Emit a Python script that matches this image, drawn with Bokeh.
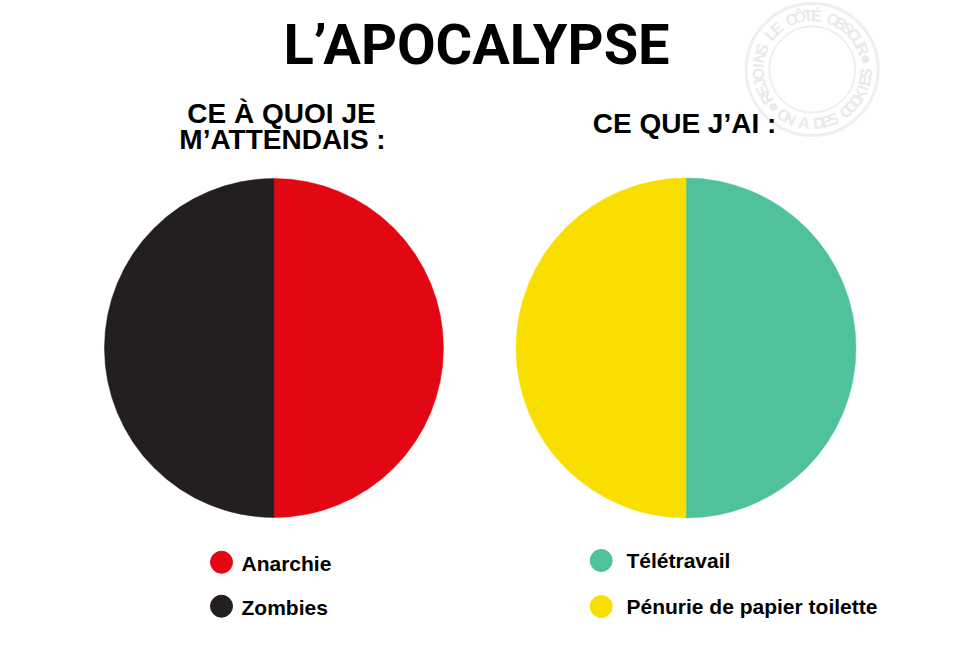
from math import pi, radians
import numpy as np
from bokeh.plotting import figure
from bokeh.models import Range1d, ColumnDataSource
from bokeh.core.properties import value
from bokeh.embed import file_html
from bokeh.resources import INLINE

# ---------------- data ----------------
title = "L’APOCALYPSE"
left_title = ["CE À QUOI JE", "M’ATTENDAIS :"]
right_title = ["CE QUE J’AI :"]

left_labels = ["Anarchie", "Zombies"]
left_values = [50, 50]
left_colors = ["#E30613", "#231F20"]

right_labels = ["Télétravail", "Pénurie de papier toilette"]
right_values = [50, 50]
right_colors = ["#4FC29B", "#F9DF00"]

wm_top = "REJOINS LE CÔTÉ OBSCUR"
wm_bottom = "ON A DES COOKIES"

# ---------------- layout ----------------
W, H = 944, 632


def X(xr):
    return xr


def Y(yr):
    return 632 - yr


p = figure(width=W, height=H, x_range=Range1d(0, W), y_range=Range1d(0, H),
           output_backend="svg", toolbar_location=None, min_border=0,
           x_axis_type=None, y_axis_type=None)
p.grid.visible = False
p.outline_line_color = None
p.background_fill_color = "white"
p.border_fill_color = "white"

BOLD = value("Liberation Sans")
TITLE_FONT = value("Roboto")

# ---------------- watermark ----------------
wcx, wcy = 811.7, 69
p.circle(x=[X(wcx)], y=[Y(wcy)], radius=66, fill_color=None, line_color="#efefef", line_width=3)
p.circle(x=[X(wcx)], y=[Y(wcy)], radius=43, fill_color=None, line_color="#efefef", line_width=2)


def ring_text(txt, a0, a1, r, upright_bottom):
    n = len(txt)
    angs = np.radians(np.linspace(a0, a1, n))
    xs = X(wcx) + r * np.cos(angs)
    ys = Y(wcy) + r * np.sin(angs)
    rot = angs + (pi / 2 if upright_bottom else -pi / 2)
    src = ColumnDataSource(dict(x=xs, y=ys, t=list(txt), a=rot))
    p.text(x="x", y="y", text="t", angle="a", source=src, text_align="center",
           text_baseline="middle", text_font=BOLD, text_font_style="bold",
           text_font_size="16px", text_color="#eaeaea")


ring_text(wm_top, 212, 22, 54, False)
ring_text(wm_bottom, 238, 356, 54, True)
p.scatter(x=[X(wcx) + 54 * np.cos(radians(11)), X(wcx) + 54 * np.cos(radians(224))],
          y=[Y(wcy) + 54 * np.sin(radians(11)), Y(wcy) + 54 * np.sin(radians(224))],
          size=7, color="#eaeaea")

# ---------------- titles ----------------
p.text(x=[X(476)], y=[Y(44)], text=[title], text_font=TITLE_FONT, text_font_style="bold",
       text_font_size="56px", text_align="center", text_baseline="alphabetic", text_color="black")

p.text(x=[X(281), X(282)], y=[Y(112.5), Y(139)], text=left_title, text_font=BOLD,
       text_font_style="bold", text_font_size="28px", text_align="center",
       text_baseline="alphabetic", text_color="black")
p.text(x=[X(684)], y=[Y(123)], text=right_title, text_font=BOLD,
       text_font_style="bold", text_font_size="28px", text_align="center",
       text_baseline="alphabetic", text_color="black")


# ---------------- pies ----------------
def pie(cx, cy, r, values, colors):
    v = np.array(values, dtype=float)
    ang = np.concatenate([[0.0], np.cumsum(v / v.sum() * 2 * pi)]) - pi / 2
    src = ColumnDataSource(dict(start=ang[:-1], end=ang[1:], color=colors))
    p.wedge(x=X(cx), y=Y(cy), radius=r, start_angle="start", end_angle="end",
            fill_color="color", line_color="color", line_width=0.5, source=src)


pie(273.4, 347.5, 169.5, left_values, left_colors)
pie(685.5, 347.5, 170, right_values, right_colors)


# ---------------- legends ----------------
def legend(xc, ys_c, ys_text, xt, labels, colors):
    p.scatter(x=[X(xc)] * len(labels), y=[Y(v) for v in ys_c], size=22,
              fill_color=colors, line_color=colors)
    p.text(x=[X(xt)] * len(labels), y=[Y(v) for v in ys_text], text=labels,
           text_font=BOLD, text_font_style="bold", text_font_size="21px",
           text_align="left", text_baseline="alphabetic", text_color="black")


legend(221, [561.7, 605.7], [563, 606.5], 241, left_labels, left_colors)
legend(600.7, [560, 606], [560, 605.5], 626, right_labels, right_colors)

open("out.html", "w").write(file_html(p, INLINE))
